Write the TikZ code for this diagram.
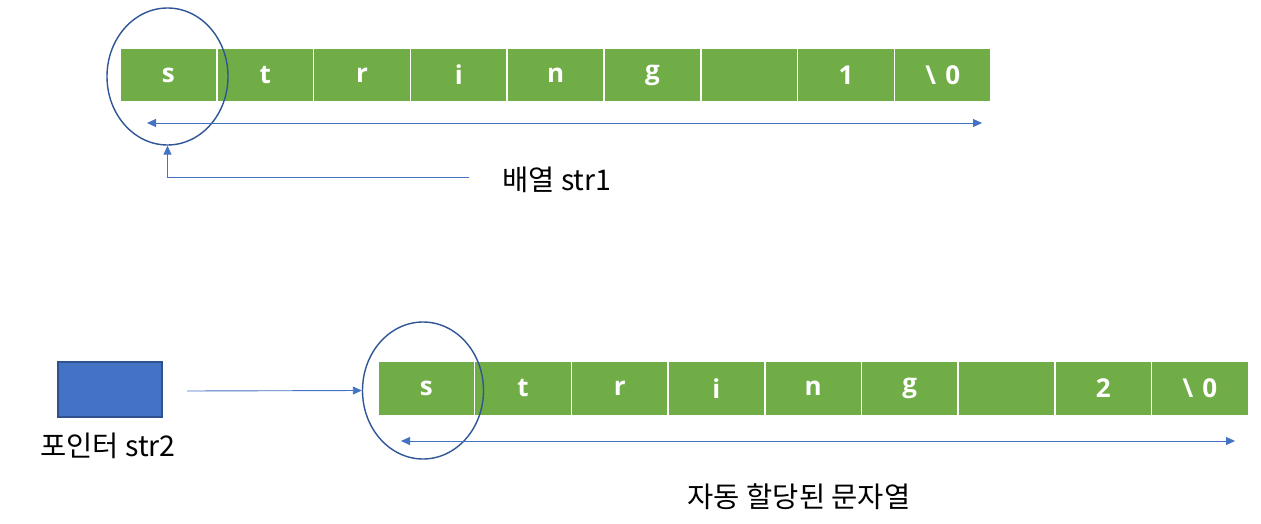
\documentclass[tikz,border=0pt]{standalone}
\usepackage{fontspec}
\usetikzlibrary{arrows.meta,shapes.geometric}
\newfontfamily\korfont{Noto Sans CJK KR}
\newfontfamily\cellfnt{Open Sans}[BoldFont={Open Sans Bold}]
\definecolor{cellgreen}{HTML}{70AD47}
\definecolor{arrowblue}{HTML}{4472C4}
\definecolor{ringblue}{HTML}{2F5597}
\definecolor{boxedge}{HTML}{2F528F}
\begin{document}
\begin{tikzpicture}[x=1pt,y=-1pt,
  cellbox/.style={rectangle,fill=cellgreen,draw=white,line width=1.5pt,
    minimum width=96.8pt,minimum height=54pt,inner sep=0pt,text=white,
    font=\cellfnt\bfseries\fontsize{26}{30}\selectfont},
  ring/.style={ellipse,draw=ringblue,line width=1.4pt,inner sep=0pt,
    minimum width=121pt,minimum height=137pt},
  conn/.style={draw=arrowblue,line width=0.9pt,-{Triangle[length=9pt,width=8pt]}},
  dconn/.style={draw=arrowblue,line width=0.9pt,{Triangle[length=9pt,width=8pt]}-{Triangle[length=9pt,width=8pt]}},
  label/.style={font=\korfont\fontsize{28.5}{32}\selectfont,text=black,inner sep=0pt}]
\fill[white] (0,0) rectangle (1261,524);
% top array
\foreach \t [count=\i] in {s,t,r,i,n,g,{},1,{\textbackslash\hspace{0.35em}0}}{
  \node[cellbox] (a\i) at ({168.4+96.8*(\i-1)},75) {\t};
}
% bottom array
\foreach \t [count=\i] in {s,t,r,i,n,g,{},2,{\textbackslash\hspace{0.35em}0}}{
  \node[cellbox,minimum width=96.7pt] (b\i) at ({426.3+96.7*(\i-1)},388.5) {\t};
}
% rings
\node[ring] (e1) at (167.5,76.5) {};
\node[ring] (e2) at (423,390.5) {};
% top double arrow
\coordinate (t1l) at (147,123);
\coordinate (t1r) at (982,123);
\draw[dconn] (t1l) -- (t1r);
% label str1
\node[label,anchor=west] (l1) at (502,180) {배열 str1};
\coordinate (l1s) at (469,177);
\draw[conn] (l1s) -| (e1.south);
% pointer box
\node[rectangle,fill=arrowblue,draw=boxedge,line width=1.2pt,minimum width=104pt,
  minimum height=55pt,inner sep=0pt] (ptr) at (110,389.5) {};
\node[label] (l2) at (108,446) {포인터 str2};
\coordinate (ps) at (187,391);
\draw[conn] (ps) -- (e2.west);
% bottom double arrow
\coordinate (t2l) at (401,441);
\coordinate (t2r) at (1235,441);
\draw[dconn] (t2l) -- (t2r);
\node[label] (l3) at (799,497) {자동 할당된 문자열};
\end{tikzpicture}
\end{document}
